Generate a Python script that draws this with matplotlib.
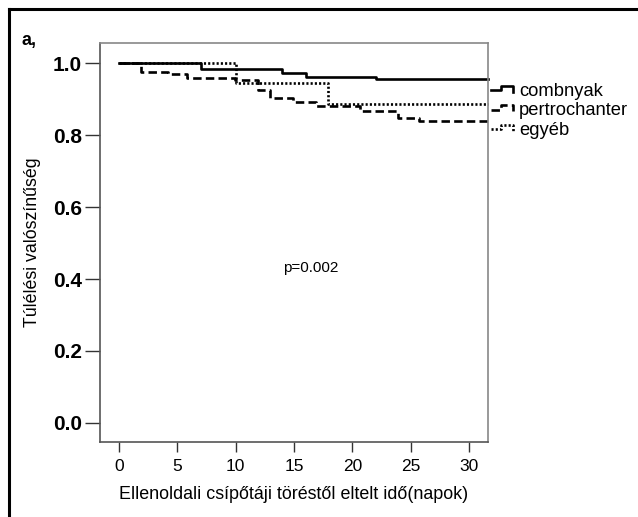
import matplotlib
matplotlib.use("Agg")
import matplotlib.pyplot as plt
from matplotlib.lines import Line2D

plt.rcParams['font.family'] = ['Liberation Sans', 'DejaVu Sans']

# Kaplan-Meier step data (time in days, survival)
t_end = 31.63
comb_t = [0, 7, 14, 16, 22]
comb_s = [1.0, 0.983, 0.971, 0.962, 0.955]
pert_t = [0, 1.9, 4.2, 5.8, 9.9, 11.9, 12.9, 14.9, 16.9, 20.7, 23.9, 25.7]
pert_s = [1.0, 0.976, 0.969, 0.957, 0.953, 0.925, 0.902, 0.893, 0.881, 0.867, 0.846, 0.839]
egy_t = [0, 10, 17.9]
egy_s = [1.0, 0.944, 0.885]

groups = ['combnyak', 'pertrochanter', 'egyéb']
xticks = [0, 5, 10, 15, 20, 25, 30]
yticks = [0.0, 0.2, 0.4, 0.6, 0.8, 1.0]

W, H = 638, 517
fig = plt.figure(figsize=(W / 100, H / 100), dpi=100)
ax = fig.add_axes([100 / W, 1 - 442 / H, 388 / W, 399 / H])

solid = dict(color='black', lw=1.9, ls='-')
dashed = dict(color='black', lw=1.9, ls=(0, (3.2, 1.6)))
dotted = dict(color='black', lw=1.9, ls=(0, (0.8, 0.8)))
styles = [solid, dashed, dotted]

for (t, s), st in zip([(comb_t, comb_s), (pert_t, pert_s), (egy_t, egy_s)], styles):
    ax.step(t + [t_end], s + [s[-1]], where='post', clip_on=False, **st)

ax.set_xlim(-1.63, t_end)
ax.set_ylim(-0.0528, 1.0556)
ax.set_xticks(xticks)
ax.set_yticks(yticks)
ax.set_yticklabels(['%.1f' % v for v in yticks], fontsize=15, fontweight='bold')
ax.set_xticklabels([str(v) for v in xticks], fontsize=12.5)
ax.tick_params(axis='y', length=10.8, width=1, pad=2, color='#333')
ax.tick_params(axis='x', length=7.2, width=1, pad=5, color='#333')
for side in ['top', 'right']:
    ax.spines[side].set_color('#888')
for side in ['left', 'bottom']:
    ax.spines[side].set_color('#555')
for sp in ax.spines.values():
    sp.set_linewidth(1.2)

ax.set_xlabel('Ellenoldali csípőtáji töréstől eltelt idő(napok)', fontsize=12.9, labelpad=9)
ax.set_ylabel('Túlélési valószínűség', fontsize=12.8, labelpad=9)

ax.text(16.4, 0.431, 'p=0.002', fontsize=11, ha='center', va='center')
fig.text(22 / W, 1 - 40 / H, 'a,', fontsize=13, fontweight='bold', va='center')


def px(x, y):
    return x / W, 1 - y / H


# legend symbols drawn as small steps, like SPSS
for i, (name, st) in enumerate(zip(groups, styles)):
    yc = 90 + i * 19.5
    xs = [491, 501, 501, 513, 513]
    ys = [yc, yc, yc - 4.5, yc - 4.5, yc + 1.5]
    pts = [px(a, b) for a, b in zip(xs, ys)]
    fig.add_artist(Line2D([p[0] for p in pts], [p[1] for p in pts], **st))
    fig.text(*px(519, yc + 1), name, fontsize=13.2, va='center', ha='left')

# outer frame (left and top edges visible)
fig.add_artist(Line2D([9 / W, 9 / W], [0, 1 - 9 / H], color='black', lw=2.2))
fig.add_artist(Line2D([9 / W, 1], [1 - 9 / H, 1 - 9 / H], color='black', lw=2.2))

fig.savefig('out.png', dpi=100)
